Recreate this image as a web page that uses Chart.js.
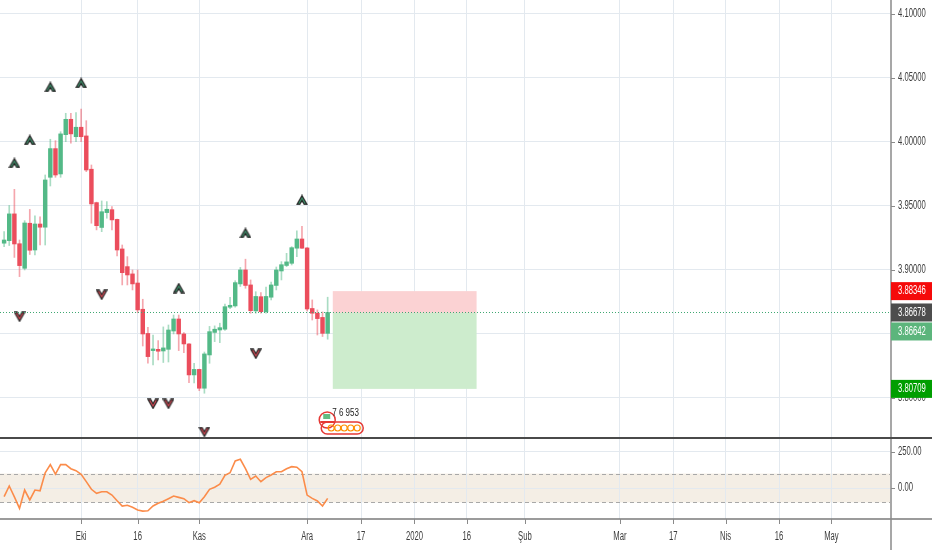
<!DOCTYPE html>
<html><head><meta charset="utf-8">
<script src="https://cdn.jsdelivr.net/npm/chart.js@4.4.1/dist/chart.umd.min.js"></script>
<style>
html,body{margin:0;padding:0;background:#fff;}
#wrap{position:relative;width:932px;height:550px;overflow:hidden;background:#fff;}
#c1{position:absolute;left:0;top:0;width:932px;height:437px;}
#sep{position:absolute;left:0;top:437px;width:932px;height:2px;background:#4a4a4a;}
#c2{position:absolute;left:0;top:439px;width:932px;height:111px;}
</style></head><body>
<div id="wrap"><canvas id="c1" width="932" height="437"></canvas><div id="sep"></div><canvas id="c2" width="932" height="111"></canvas></div>
<script>
// ---------------- DATA ----------------
const opens  = [3.9209,3.9229,3.9438,3.9205,3.9013,3.9365,3.9156,3.9359,3.9334,3.9724,3.9948,3.9750,4.0057,4.0177,4.0041,4.0115,4.0047,3.9787,3.9526,3.9332,3.9448,3.9471,3.9395,3.9164,3.9026,3.8969,3.8898,3.8693,3.8504,3.8370,3.8380,3.8367,3.8380,3.8523,3.8617,3.8500,3.8422,3.8180,3.8223,3.8076,3.8336,3.8512,3.8531,3.8537,3.8709,3.8719,3.8891,3.9000,3.8883,3.8680,3.8791,3.8674,3.8787,3.8879,3.8992,3.9035,3.9052,3.9170,3.9242,3.9172,3.8699,3.8662,3.8629,3.8505];
const highs  = [3.9299,3.9504,3.9630,3.9234,3.9385,3.9473,3.9422,3.9416,3.9742,4.0021,4.0010,4.0080,4.0224,4.0224,4.0229,4.0256,4.0166,3.9820,3.9530,3.9539,3.9534,3.9495,3.9398,3.9195,3.9104,3.9000,3.9000,3.8771,3.8552,3.8492,3.8448,3.8555,3.8570,3.8648,3.8648,3.8510,3.8425,3.8271,3.8225,3.8359,3.8559,3.8563,3.8584,3.8734,3.8787,3.8916,3.9020,3.9084,3.8922,3.8830,3.8823,3.8867,3.8906,3.9023,3.9065,3.9130,3.9182,3.9305,3.9341,3.9175,3.8766,3.8688,3.8672,3.8787];
const lows   = [3.9182,3.9191,3.9098,3.8948,3.9000,3.9121,3.9117,3.9195,3.9195,3.9656,3.9724,3.9724,4.0002,3.9990,4.0002,4.0002,3.9768,3.9365,3.9313,3.9299,3.9404,3.9313,3.9109,3.8883,3.8883,3.8844,3.8666,3.8406,3.8271,3.8258,3.8297,3.8277,3.8281,3.8500,3.8370,3.8354,3.8120,3.8117,3.8057,3.8037,3.8271,3.8440,3.8432,3.8527,3.8698,3.8709,3.8871,3.8857,3.8662,3.8662,3.8662,3.8662,3.8766,3.8844,3.8922,3.9026,3.9039,3.9104,3.9168,3.8680,3.8609,3.8492,3.8480,3.8459];
const closes = [3.9234,3.9438,3.9203,3.9034,3.9367,3.9154,3.9359,3.9334,3.9703,3.9948,3.9742,4.0063,4.0177,4.0063,4.0115,4.0041,3.9781,3.9516,3.9346,3.9455,3.9474,3.9391,3.9156,3.8979,3.8961,3.8891,3.8688,3.8500,3.8323,3.8383,3.8365,3.8391,3.8531,3.8617,3.8500,3.8422,3.8180,3.8223,3.8076,3.8344,3.8518,3.8537,3.8549,3.8713,3.8724,3.8901,3.9000,3.8879,3.8682,3.8793,3.8674,3.8793,3.8883,3.9000,3.9041,3.9063,3.9174,3.9242,3.9170,3.8695,3.8662,3.8620,3.8505,3.86678];
const cci    = [-60,14,-62,-141,-14,-83,-14,-19,106,162,97,162,162,134,120,95,44,-9,-37,-26,-26,-49,-88,-125,-120,-134,-153,-160,-158,-125,-106,-92,-74,-56,-65,-74,-102,-88,-102,-60,-9,5,26,88,106,188,199,134,60,83,44,72,90,113,113,134,148,144,113,-49,-72,-90,-125,-72];

const upMarkIdx    = [2, 5, 9, 15, 34, 47, 58];
const upMarkPrice  = [3.9836, 4.0016, 4.0430, 4.0461, 3.8859, 3.9289, 3.9547];
const dnMarkIdx    = [3, 19, 29, 32, 39, 49];
const dnMarkPrice  = [3.8633, 3.8805, 3.7953, 3.7953, 3.7734, 3.8344];

const priceTicks = [3.80, 3.85, 3.90, 3.95, 4.00, 4.05, 4.10];
const cciTicks   = [0, 250];
const cciBand    = [-100, 100];
const timeTickPos    = [15, 26, 38, 59, 69.5, 79.9, 90.1, 101.4, 119.9, 130.3, 140.5, 150.9, 161.1];
const timeTickLabels = ['Eki','16','Kas','Ara','17','2020','16','Şub','Mar','17','Nis','16','May'];

const lastPrice   = 3.86678;
const posStartIdx = 64, posEndIdx = 92;
const posEntry = 3.86642, posStop = 3.88346, posTarget = 3.80709;
const tagValues = [3.88346, 3.86678, 3.86642, 3.80709];
const tagColors = ['#f50a0a', '#4d4d4d', '#5cb57c', '#009e00'];
const eventIdx = 63.5;
const eventText = '7 6 953';

// ---------------- STYLE ----------------
const X_MIN = -0.8, X_MAX = 172.5;
const AXIS_W = 42;
const UP = '#53b987', DN = '#eb4d5c';
const WICK_UP = 'rgba(83,185,135,0.5)', WICK_DN = 'rgba(235,77,92,0.5)';
const GRID = '#e3e9ef';
const TXT = '#3c3c3c';
const FONT = "12px 'Liberation Sans', Arial, sans-serif";
const TS = 0.64;

function drawText(ctx, txt, x, y, align, color, font, sc) {
  ctx.save();
  ctx.font = font || FONT; ctx.fillStyle = color; ctx.textBaseline = 'middle'; ctx.textAlign = 'left';
  const s = sc || TS;
  const w = ctx.measureText(txt).width * s;
  let x0 = x;
  if (align === 'center') x0 = x - w / 2; else if (align === 'right') x0 = x - w;
  ctx.translate(x0, y); ctx.scale(s, 1); ctx.fillText(txt, 0, 0);
  ctx.restore();
}

function chevron(up, fill) {
  const c = document.createElement('canvas'); c.width = 12; c.height = 11;
  const g = c.getContext('2d');
  g.beginPath();
  if (up) { g.moveTo(1,10); g.lineTo(6,1.2); g.lineTo(11,10); g.lineTo(8.4,10); g.lineTo(6,5.8); g.lineTo(3.6,10); }
  else { g.moveTo(1,1); g.lineTo(6,9.8); g.lineTo(11,1); g.lineTo(8.4,1); g.lineTo(6,5.2); g.lineTo(3.6,1); }
  g.closePath();
  g.fillStyle = fill; g.fill();
  g.lineWidth = 1.3; g.strokeStyle = '#262626'; g.lineJoin = 'miter'; g.stroke();
  return c;
}
const upImg = chevron(true, '#3e9a70');
const dnImg = chevron(false, '#e84a57');

const idx = opens.map((_, i) => i);
const isUp = i => closes[i] >= opens[i];

function xScaleOpts(h) {
  return {
    type: 'linear', min: X_MIN, max: X_MAX, offset: false,
    afterFit: s => { s.height = h; },
    afterBuildTicks: s => { s.ticks = timeTickPos.map(v => ({ value: v })); },
    ticks: { display: false },
    grid: { color: GRID, drawTicks: false, lineWidth: 1, offset: false },
    border: { display: false }
  };
}

// ---------------- TOP CHART ----------------
const topDecor = {
  id: 'topDecor',
  afterDatasetsDraw(chart) {
    const ctx = chart.ctx, xs = chart.scales.x, ys = chart.scales.y, ca = chart.chartArea;
    const x1 = xs.getPixelForValue(posStartIdx), x2 = xs.getPixelForValue(posEndIdx);
    const yE = ys.getPixelForValue(posEntry), yS = ys.getPixelForValue(posStop), yT = ys.getPixelForValue(posTarget);
    ctx.save();
    ctx.fillStyle = '#fbd2d3'; ctx.fillRect(x1, yS, x2 - x1, yE - yS);
    ctx.fillStyle = '#cdeccd'; ctx.fillRect(x1, yE, x2 - x1, yT - yE);
    const yL = ys.getPixelForValue(lastPrice);
    ctx.strokeStyle = '#3fa872'; ctx.lineWidth = 1; ctx.setLineDash([1, 2]);
    ctx.beginPath(); ctx.moveTo(ca.left, Math.round(yL) + 0.5); ctx.lineTo(ca.right, Math.round(yL) + 0.5); ctx.stroke();
    ctx.setLineDash([]);
    // event icons
    const ex = xs.getPixelForValue(eventIdx), ey = ca.bottom - 17;
    ctx.lineWidth = 1.5; ctx.strokeStyle = '#e53935';
    ctx.beginPath(); ctx.arc(ex - 3, ey, 8, 0, Math.PI * 2); ctx.fillStyle = '#fff'; ctx.fill(); ctx.stroke();
    ctx.fillStyle = '#62bd82'; ctx.fillRect(ex - 7, ey - 6, 7, 5);
    ctx.fillStyle = '#e53935'; ctx.fillRect(ex - 10, ey + 1, 14, 2);
    ctx.beginPath();
    const px = ex - 9, pw = 42, py = ey + 2, ph = 12;
    ctx.moveTo(px + ph / 2, py); ctx.lineTo(px + pw - ph / 2, py);
    ctx.arc(px + pw - ph / 2, py + ph / 2, ph / 2, -Math.PI / 2, Math.PI / 2);
    ctx.lineTo(px + ph / 2, py + ph); ctx.arc(px + ph / 2, py + ph / 2, ph / 2, Math.PI / 2, Math.PI * 1.5);
    ctx.stroke();
    ctx.strokeStyle = '#ff8f00'; ctx.lineWidth = 1.2;
    for (let k = 0; k < 5; k++) { ctx.beginPath(); ctx.arc(ex + 1 + k * 6.5, py + 6, 3, 0, Math.PI * 2); ctx.stroke(); }
    ctx.restore();
    drawText(ctx, eventText, ex + 2, ey - 7, 'left', '#222', "10px 'Liberation Sans', Arial, sans-serif", 0.8);
  },
  afterDraw(chart) {
    const ctx = chart.ctx, ys = chart.scales.y, ca = chart.chartArea;
    ctx.save();
    ctx.strokeStyle = '#8a8a8a'; ctx.lineWidth = 1.5;
    ctx.beginPath(); ctx.moveTo(ca.right + 1, 0); ctx.lineTo(ca.right + 1, chart.height); ctx.stroke();
    ctx.lineWidth = 1;
    priceTicks.forEach(v => {
      const y = Math.round(ys.getPixelForValue(v)) + 0.5;
      ctx.beginPath(); ctx.moveTo(ca.right + 1, y); ctx.lineTo(ca.right + 5, y); ctx.stroke();
    });
    ctx.restore();
    priceTicks.forEach(v => drawText(ctx, v.toFixed(5), ca.right + 8, ys.getPixelForValue(v), 'left', TXT));
    const order = tagValues.map((v, k) => k).sort((a, b) => tagValues[b] - tagValues[a]);
    let prev = -1e9;
    order.forEach(k => {
      let y = ys.getPixelForValue(tagValues[k]);
      if (y < prev + 19) y = prev + 19;
      prev = y;
      ctx.save(); ctx.fillStyle = tagColors[k]; ctx.fillRect(ca.right + 1, y - 9, AXIS_W - 1, 18); ctx.restore();
      drawText(ctx, tagValues[k].toFixed(5), ca.right + 8, y, 'left', '#ffffff');
    });
  }
};

new Chart(document.getElementById('c1'), {
  type: 'bar',
  data: {
    datasets: [
      { type: 'bar', data: idx.map(i => ({ x: i, y: [lows[i], highs[i]] })),
        backgroundColor: idx.map(i => isUp(i) ? WICK_UP : WICK_DN), barThickness: 1, grouped: false, borderWidth: 0, order: 3 },
      { type: 'bar', data: idx.map(i => ({ x: i, y: [opens[i], closes[i]] })),
        backgroundColor: idx.map(i => isUp(i) ? UP : DN), barThickness: 3.8, grouped: false, borderWidth: 0, minBarLength: 1, order: 2 },
      { type: 'scatter', data: upMarkIdx.map((v, k) => ({ x: v, y: upMarkPrice[k] })), pointStyle: upImg, pointRadius: 6, order: 1 },
      { type: 'scatter', data: dnMarkIdx.map((v, k) => ({ x: v, y: dnMarkPrice[k] })), pointStyle: dnImg, pointRadius: 6, order: 1 }
    ]
  },
  options: {
    responsive: false, animation: false, devicePixelRatio: 1,
    layout: { padding: 0, autoPadding: false },
    plugins: { legend: { display: false }, tooltip: { enabled: false } },
    events: [],
    scales: {
      x: xScaleOpts(0),
      y: {
        type: 'linear', position: 'right', min: 3.7695, max: 4.1109,
        afterFit: s => { s.width = AXIS_W; },
        afterBuildTicks: s => { s.ticks = priceTicks.map(v => ({ value: v })); },
        ticks: { display: false },
        grid: { color: GRID, drawTicks: false, offset: false },
        border: { display: false }
      }
    }
  },
  plugins: [topDecor]
});

// ---------------- BOTTOM CHART ----------------
const botDecor = {
  id: 'botDecor',
  beforeDraw(chart) {
    const ctx = chart.ctx, ys = chart.scales.y, ca = chart.chartArea;
    const y1 = ys.getPixelForValue(cciBand[1]), y2 = ys.getPixelForValue(cciBand[0]);
    ctx.save(); ctx.fillStyle = '#f4eee5'; ctx.fillRect(ca.left, y1, ca.right - ca.left, y2 - y1); ctx.restore();
  },
  beforeDatasetsDraw(chart) {
    const ctx = chart.ctx, ys = chart.scales.y, ca = chart.chartArea;
    ctx.save(); ctx.strokeStyle = '#a8a8a8'; ctx.lineWidth = 1; ctx.setLineDash([4, 3]);
    cciBand.forEach(v => {
      const y = Math.round(ys.getPixelForValue(v)) + 0.5;
      ctx.beginPath(); ctx.moveTo(ca.left, y); ctx.lineTo(ca.right, y); ctx.stroke();
    });
    ctx.restore();
  },
  afterDraw(chart) {
    const ctx = chart.ctx, xs = chart.scales.x, ys = chart.scales.y, ca = chart.chartArea;
    ctx.save();
    ctx.strokeStyle = '#7a7a7a'; ctx.lineWidth = 1.5;
    ctx.beginPath(); ctx.moveTo(0, ca.bottom); ctx.lineTo(chart.width, ca.bottom); ctx.stroke();
    ctx.strokeStyle = '#8a8a8a';
    ctx.beginPath(); ctx.moveTo(ca.right + 1, 0); ctx.lineTo(ca.right + 1, chart.height); ctx.stroke();
    ctx.lineWidth = 1;
    cciTicks.forEach(v => {
      const y = Math.round(ys.getPixelForValue(v)) + 0.5;
      ctx.beginPath(); ctx.moveTo(ca.right + 1, y); ctx.lineTo(ca.right + 5, y); ctx.stroke();
    });
    timeTickPos.forEach(v => {
      const x = Math.round(xs.getPixelForValue(v)) + 0.5;
      ctx.beginPath(); ctx.moveTo(x, ca.bottom); ctx.lineTo(x, ca.bottom + 5); ctx.stroke();
    });
    ctx.restore();
    cciTicks.forEach(v => drawText(ctx, v.toFixed(2), ca.right + 8, ys.getPixelForValue(v), 'left', TXT));
    timeTickPos.forEach((v, k) => drawText(ctx, timeTickLabels[k], xs.getPixelForValue(v), ca.bottom + 18, 'center', TXT));
  }
};

new Chart(document.getElementById('c2'), {
  type: 'line',
  data: {
    datasets: [{
      data: idx.map(i => ({ x: i, y: cci[i] })),
      borderColor: '#fb8c4a', borderWidth: 1.6, pointRadius: 0, tension: 0, fill: false
    }]
  },
  options: {
    responsive: false, animation: false, devicePixelRatio: 1,
    layout: { padding: 0, autoPadding: false },
    plugins: { legend: { display: false }, tooltip: { enabled: false } },
    events: [],
    scales: {
      x: xScaleOpts(31),
      y: {
        type: 'linear', position: 'right', min: -215, max: 340,
        afterFit: s => { s.width = AXIS_W; },
        afterBuildTicks: s => { s.ticks = cciTicks.map(v => ({ value: v })); },
        ticks: { display: false },
        grid: { color: GRID, drawTicks: false },
        border: { display: false }
      }
    }
  },
  plugins: [botDecor]
});
</script>
</body></html>
